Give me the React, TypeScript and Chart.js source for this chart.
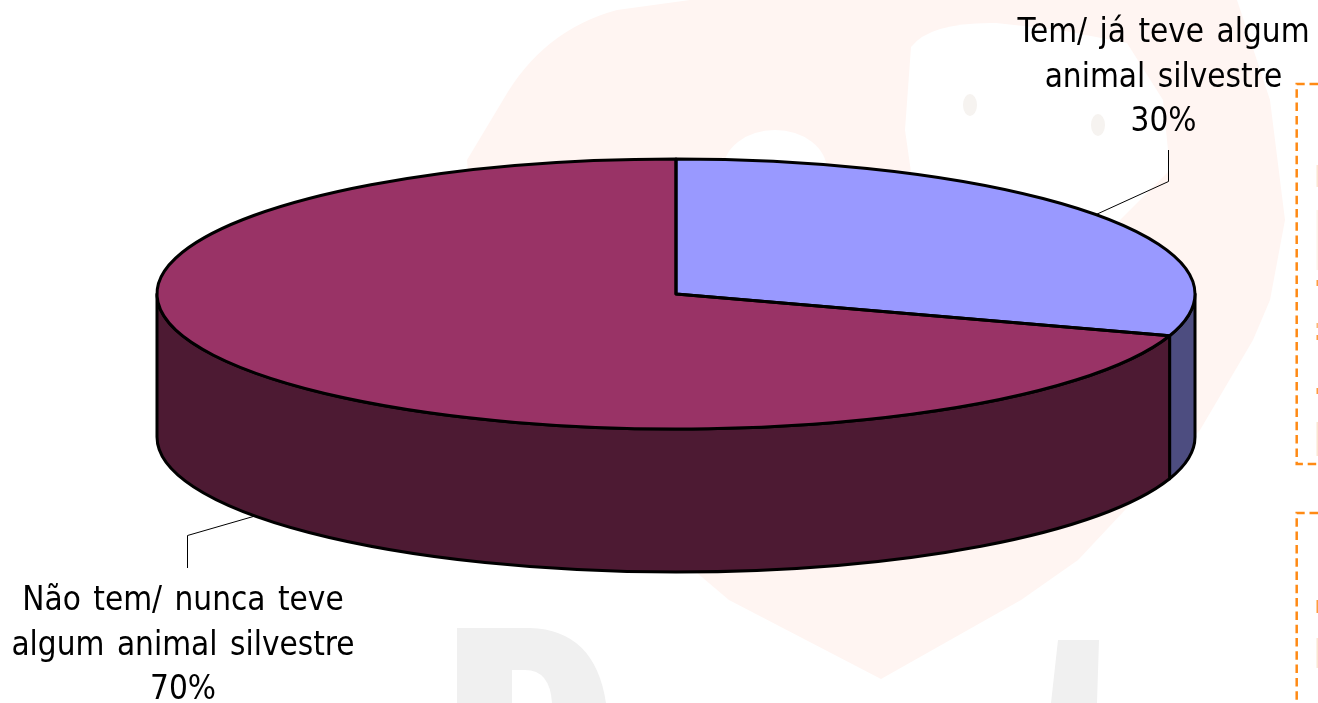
import React, { useEffect, useRef } from "react";
import { Chart, registerables } from "chart.js";

Chart.register(...registerables);

const categories = ["Tem/ já teve algum animal silvestre", "Não tem/ nunca teve algum animal silvestre"];
const values = [30, 70];
const sliceColors = ["#9999FF", "#993366"];
const sideColors = ["#4D4D80", "#4D1A33"];
const labelLines = [
  ["Tem/ já teve algum", "animal silvestre"],
  ["Não tem/ nunca teve", "algum animal silvestre"],
];

const RX = 519;
const DEPTH = 143;
const FONT = 'condensed 33px "DejaVu Sans"';

const backdrop = {
  id: "backdrop",
  beforeDraw(chart: any) {
    const ctx = chart.ctx as CanvasRenderingContext2D;
    ctx.save();
    ctx.fillStyle = "#FFFFFF";
    ctx.fillRect(0, 0, 1318, 703);

    // watermark heart
    ctx.fillStyle = "#FFF5F2";
    ctx.beginPath();
    ctx.moveTo(881, 679);
    ctx.lineTo(729, 600);
    ctx.lineTo(696, 572);
    ctx.lineTo(480, 300);
    ctx.lineTo(467, 160);
    ctx.lineTo(503, 100);
    ctx.quadraticCurveTo(543, 30, 617, 10);
    ctx.lineTo(690, 0);
    ctx.lineTo(1237, 0);
    ctx.lineTo(1270, 100);
    ctx.lineTo(1285, 220);
    ctx.lineTo(1270, 300);
    ctx.lineTo(1253, 340);
    ctx.lineTo(1200, 430);
    ctx.lineTo(1078, 560);
    ctx.lineTo(1021, 600);
    ctx.closePath();
    ctx.fill();

    // white holes in the watermark
    ctx.fillStyle = "#FFFFFF";
    ctx.beginPath();
    ctx.moveTo(915, 200);
    ctx.lineTo(905, 130);
    ctx.lineTo(911, 47);
    ctx.quadraticCurveTo(930, 22, 996, 23);
    ctx.lineTo(1060, 30);
    ctx.lineTo(1127, 43);
    ctx.lineTo(1163, 100);
    ctx.lineTo(1170, 170);
    ctx.lineTo(1100, 240);
    ctx.closePath();
    ctx.fill();
    ctx.beginPath();
    ctx.ellipse(775, 170, 52, 40, 0, 0, Math.PI * 2);
    ctx.fill();

    ctx.fillStyle = "#F6F3F0";
    ctx.beginPath();
    ctx.ellipse(970, 105, 7, 11, 0, 0, Math.PI * 2);
    ctx.ellipse(1098, 125, 7, 11, 0, 0, Math.PI * 2);
    ctx.fill();

    // watermark letters at the bottom
    ctx.fillStyle = "#F0F0F0";
    ctx.beginPath();
    ctx.moveTo(457, 703);
    ctx.lineTo(457, 628);
    ctx.lineTo(530, 628);
    ctx.quadraticCurveTo(595, 630, 606, 703);
    ctx.lineTo(552, 703);
    ctx.quadraticCurveTo(550, 670, 525, 670);
    ctx.lineTo(512, 670);
    ctx.lineTo(512, 703);
    ctx.closePath();
    ctx.moveTo(1058, 640);
    ctx.lineTo(1099, 640);
    ctx.lineTo(1097, 703);
    ctx.lineTo(1051, 703);
    ctx.closePath();
    ctx.fill();

    // clipped callout boxes at the right edge
    ctx.strokeStyle = "#FF8A14";
    ctx.lineWidth = 2.5;
    ctx.setLineDash([8.5, 4.8]);
    ctx.beginPath();
    ctx.moveTo(1318, 84);
    ctx.lineTo(1296.7, 84);
    ctx.lineTo(1296.7, 464);
    ctx.lineTo(1318, 464);
    ctx.stroke();
    ctx.beginPath();
    ctx.moveTo(1318, 513);
    ctx.lineTo(1296.7, 513);
    ctx.lineTo(1296.7, 703);
    ctx.stroke();
    ctx.setLineDash([]);

    // slivers of the clipped callout letters
    const slivers = [
      [165, 22, "#FBE6D2"], [210, 60, "#FDF3EA"], [280, 6, "#FF9C3C"], [323, 5, "#FFB873"],
      [335, 5, "#FF9C3C"], [388, 6, "#FF9C3C"], [422, 34, "#FBE6D2"], [600, 13, "#FF9C3C"], [638, 30, "#FBE6D2"],
    ] as const;
    for (const [y, h, c] of slivers) {
      ctx.fillStyle = c;
      ctx.fillRect(1316.5, y, 1.5, h);
    }
    ctx.restore();
  },
};

const pie3d = {
  id: "pie3d",
  beforeDatasetsDraw(chart: any) {
    const ctx = chart.ctx as CanvasRenderingContext2D;
    const arcs = chart.getDatasetMeta(0).data;
    const { x: cx, y: cy, outerRadius: R } = arcs[0];
    const ry = R;
    ctx.save();
    ctx.lineWidth = 3;
    ctx.strokeStyle = "#000000";
    ctx.lineJoin = "round";
    arcs.forEach((arc: any, i: number) => {
      const a = Math.max(arc.startAngle, 0);
      const b = Math.min(arc.endAngle, Math.PI);
      if (b <= a) return;
      ctx.beginPath();
      ctx.ellipse(cx, cy, RX, ry, 0, a, b);
      ctx.ellipse(cx, cy + DEPTH, RX, ry, 0, b, a, true);
      ctx.closePath();
      ctx.fillStyle = sideColors[i];
      ctx.fill();
      ctx.stroke();
    });
    ctx.restore();
    ctx.save();
    ctx.translate(cx, cy);
    ctx.scale(RX / R, ry / R);
    ctx.translate(-cx, -cy);
  },
  afterDatasetsDraw(chart: any) {
    const ctx = chart.ctx as CanvasRenderingContext2D;
    ctx.restore();
    const arcs = chart.getDatasetMeta(0).data;
    const { x: cx, y: cy, outerRadius: R } = arcs[0];
    ctx.save();
    ctx.lineWidth = 3;
    ctx.strokeStyle = "#000000";
    ctx.lineJoin = "round";
    arcs.forEach((arc: any) => {
      ctx.beginPath();
      ctx.moveTo(cx, cy);
      ctx.ellipse(cx, cy, RX, R, 0, arc.startAngle, arc.endAngle);
      ctx.closePath();
      ctx.stroke();
    });

    // leader lines
    ctx.lineWidth = 1;
    ctx.beginPath();
    ctx.moveTo(1095, 215);
    ctx.lineTo(1168.5, 181.5);
    ctx.lineTo(1168.5, 150);
    ctx.moveTo(255, 516);
    ctx.lineTo(187.5, 535.5);
    ctx.lineTo(187.5, 568);
    ctx.stroke();

    // data labels
    ctx.fillStyle = "#000000";
    ctx.font = FONT;
    ctx.textAlign = "center";
    ctx.textBaseline = "alphabetic";
    (ctx as any).letterSpacing = "0px";
    (ctx as any).wordSpacing = "3px";
    const anchors = [
      { x: 1163.5, y: 42 },
      { x: 183, y: 610 },
    ];
    values.forEach((v, i) => {
      const lines = [...labelLines[i], `${v}%`];
      lines.forEach((t, k) => ctx.fillText(t, anchors[i].x, anchors[i].y + k * 44.7));
    });
    ctx.restore();
  },
};

export default function App() {
  const ref = useRef<HTMLCanvasElement>(null);
  useEffect(() => {
    document.body.style.margin = "0";
    document.body.style.overflow = "hidden";
    const chart = new Chart(ref.current!, {
      type: "pie",
      data: {
        labels: categories,
        datasets: [{ data: values, backgroundColor: sliceColors, borderWidth: 0, clip: false } as any],
      },
      options: {
        animation: false,
        responsive: false,
        devicePixelRatio: 1,
        layout: { padding: { left: 34, right: 0, top: 159, bottom: 274 } },
        plugins: { legend: { display: false }, tooltip: { enabled: false }, title: { display: false } },
      },
      plugins: [backdrop, pie3d],
    });
    return () => chart.destroy();
  }, []);
  return (
    <div style={{ position: "fixed", left: 0, top: 0, width: 1318, height: 703 }}>
      <canvas ref={ref} width={1318} height={703} style={{ display: "block" }} />
    </div>
  );
}
